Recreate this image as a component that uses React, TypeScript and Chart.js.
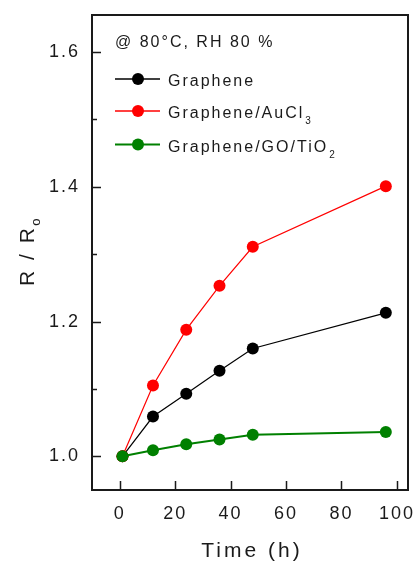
import React, { useEffect, useRef } from 'react';
import { Chart, registerables } from 'chart.js';

Chart.register(...registerables);

// ---- Data ----
const timeHours = [1, 12, 24, 36, 48, 96];
const grapheneValues = [1.0, 1.059, 1.093, 1.127, 1.16, 1.213];
const auCl3Values = [1.0, 1.105, 1.188, 1.253, 1.311, 1.401];
const goTiO2Values = [1.0, 1.009, 1.018, 1.025, 1.032, 1.036];

const xTickValues = [0, 20, 40, 60, 80, 100];
const yTickValues = [1.0, 1.2, 1.4, 1.6];
const yMinorTickValues = [1.1, 1.3, 1.5];

const seriesNames = ['Graphene', 'Graphene/AuCl', 'Graphene/GO/TiO'];
const seriesSubscripts = ['', '3', '2'];
const seriesColors = ['#000000', '#ff0000', '#008000'];
const conditionText = '@ 80°C, RH 80 %';
const xTitle = 'Time (h)';
const yTitleMain = 'R / R';
const yTitleSub = 'o';

const FONT = '"Liberation Sans", Arial, sans-serif';
const TEXT_COLOR = '#1a1a1a';

const toPoints = (vals: number[]) => vals.map((v, i) => ({ x: timeHours[i], y: v }));

const decorPlugin = {
  id: 'decor',
  beforeDraw(chart: any) {
    chart.ctx.letterSpacing = '2px';
  },
  beforeDatasetsDraw(chart: any) {
    const { ctx, chartArea: a, scales } = chart;
    ctx.save();
    ctx.strokeStyle = TEXT_COLOR;
    ctx.lineWidth = 2;
    ctx.strokeRect(a.left, a.top, a.right - a.left, a.bottom - a.top);
    ctx.beginPath();
    for (const v of yTickValues) {
      const y = Math.round(scales.y.getPixelForValue(v)) + 0.5;
      ctx.moveTo(a.left, y);
      ctx.lineTo(a.left + 9, y);
    }
    for (const v of yMinorTickValues) {
      const y = Math.round(scales.y.getPixelForValue(v)) + 0.5;
      ctx.moveTo(a.left, y);
      ctx.lineTo(a.left + 5, y);
    }
    for (const v of xTickValues) {
      const x = Math.round(scales.x.getPixelForValue(v)) + 0.5;
      ctx.moveTo(x, a.bottom);
      ctx.lineTo(x, a.bottom - 9);
    }
    ctx.lineWidth = 1.5;
    ctx.stroke();
    ctx.restore();
  },
  afterDraw(chart: any) {
    const { ctx, chartArea: a } = chart;
    ctx.save();
    ctx.fillStyle = TEXT_COLOR;
    ctx.textAlign = 'left';
    ctx.textBaseline = 'alphabetic';

    // condition text
    ctx.letterSpacing = '2px';
    ctx.font = `16px ${FONT}`;
    ctx.fillText(conditionText, 115, 47);

    // legend
    const rowY = [79, 111, 144.5];
    seriesNames.forEach((name, i) => {
      const cy = rowY[i];
      ctx.strokeStyle = seriesColors[i];
      ctx.lineWidth = i === 2 ? 2 : 1.5;
      ctx.beginPath();
      ctx.moveTo(115, cy);
      ctx.lineTo(160, cy);
      ctx.stroke();
      ctx.fillStyle = seriesColors[i];
      ctx.beginPath();
      ctx.arc(138, cy, 6, 0, Math.PI * 2);
      ctx.fill();
      ctx.fillStyle = TEXT_COLOR;
      ctx.letterSpacing = '2px';
      ctx.font = `16px ${FONT}`;
      ctx.fillText(name, 168, cy + 7);
      if (seriesSubscripts[i]) {
        const w = ctx.measureText(name).width;
        ctx.font = `10px ${FONT}`;
        ctx.letterSpacing = '0px';
        ctx.fillText(seriesSubscripts[i], 168 + w + 1, cy + 13);
      }
    });

    // x title
    ctx.letterSpacing = '3px';
    ctx.font = `21px ${FONT}`;
    ctx.textAlign = 'center';
    ctx.fillText(xTitle, (a.left + a.right) / 2 + 2, 557);

    // y title
    ctx.save();
    ctx.translate(34, 286);
    ctx.rotate(-Math.PI / 2);
    ctx.textAlign = 'left';
    ctx.letterSpacing = '2.5px';
    ctx.font = `21px ${FONT}`;
    ctx.fillText(yTitleMain, 0, 0);
    const w = ctx.measureText(yTitleMain).width;
    ctx.letterSpacing = '0px';
    ctx.font = `13px ${FONT}`;
    ctx.fillText(yTitleSub, w, 6);
    ctx.restore();

    ctx.restore();
  },
};

export default function App() {
  const canvasRef = useRef<HTMLCanvasElement | null>(null);

  useEffect(() => {
    const canvas = canvasRef.current;
    if (!canvas) return;
    const mk = (label: string, vals: number[], color: string, width: number, order: number) => ({
      label,
      data: toPoints(vals),
      borderColor: color,
      backgroundColor: color,
      borderWidth: width,
      pointRadius: 6,
      pointHoverRadius: 6,
      pointBorderWidth: 0,
      pointBackgroundColor: color,
      showLine: true,
      tension: 0,
      order,
    });
    const chart = new Chart(canvas, {
      type: 'scatter',
      data: {
        datasets: [
          mk(seriesNames[0], grapheneValues, seriesColors[0], 1.2, 2),
          mk(seriesNames[1] + '3', auCl3Values, seriesColors[1], 1.2, 1),
          mk(seriesNames[2] + '2', goTiO2Values, seriesColors[2], 2, 0),
        ],
      },
      options: {
        animation: false,
        responsive: false,
        devicePixelRatio: 1,
        layout: { padding: { top: 15, right: 5, left: 0, bottom: 0 } },
        plugins: { legend: { display: false }, tooltip: { enabled: false } },
        scales: {
          x: {
            type: 'linear',
            min: -10,
            max: 104,
            grid: { display: false, drawTicks: false },
            border: { display: false },
            ticks: {
              padding: 13,
              color: TEXT_COLOR,
              font: { family: FONT, size: 18 },
            },
            afterBuildTicks: (scale: any) => {
              scale.ticks = xTickValues.map((v) => ({ value: v }));
            },
            afterFit: (scale: any) => {
              scale.height = 73;
              scale.paddingLeft = 0;
              scale.paddingRight = 0;
            },
          },
          y: {
            type: 'linear',
            min: 0.95,
            max: 1.655,
            grid: { display: false, drawTicks: false },
            border: { display: false },
            ticks: {
              padding: 12,
              color: TEXT_COLOR,
              font: { family: FONT, size: 18 },
              callback: (v: any) => Number(v).toFixed(1),
            },
            afterBuildTicks: (scale: any) => {
              scale.ticks = yTickValues.map((v) => ({ value: v }));
            },
            afterFit: (scale: any) => {
              scale.width = 92;
              scale.paddingTop = 0;
              scale.paddingBottom = 0;
            },
          },
        },
      },
      plugins: [decorPlugin],
    } as any);
    return () => chart.destroy();
  }, []);

  return (
    <div style={{ position: 'absolute', left: 0, top: 0, width: 414, height: 563, background: '#fff' }}>
      <canvas ref={canvasRef} width={414} height={563} style={{ width: 414, height: 563, display: 'block' }} />
    </div>
  );
}
